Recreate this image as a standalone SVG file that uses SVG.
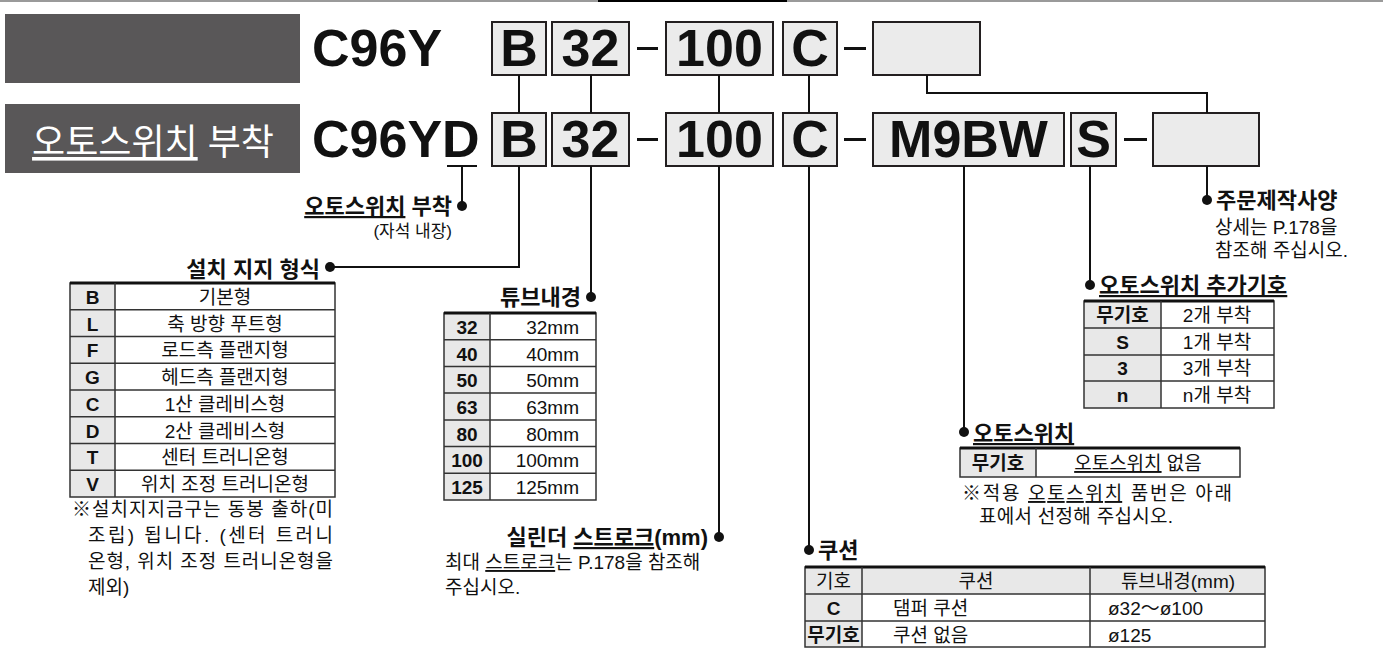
<svg xmlns="http://www.w3.org/2000/svg" width="1383" height="651" viewBox="0 0 1383 651">
<style>
text{font-family:"Liberation Sans","Noto Sans CJK KR",sans-serif;fill:#111}
.code{font-weight:bold;font-size:52px;text-anchor:middle}
.big{font-weight:bold;font-size:52px}
.box{fill:#ebebeb;stroke:#231f20;stroke-width:2}
.ln{stroke:#111;stroke-width:2;fill:none}
.dot{fill:#111}
.ti{font-weight:bold;font-size:22px}
.t{font-size:19px}
.tc{font-size:19px;text-anchor:middle}
.tb{font-size:19px;font-weight:bold;text-anchor:middle}
.k{fill:#e8e8e8}
.w{fill:#fff}
.grid{stroke:#333;stroke-width:1.5;fill:none}
.u{text-decoration:underline}
</style>
<rect x="0" y="0" width="1383" height="2" fill="#9a9a9a"/>
<rect x="598" y="0" width="189" height="2" fill="#000"/>

<g id="header-plain">
<rect x="5" y="14" width="295" height="69" fill="#595758"/>
<text class="big" x="312" y="66">C96Y</text>
</g>
<g id="header-switch">
<rect x="5" y="104" width="295" height="69" fill="#595758"/>
<text x="153" y="155" font-size="36" text-anchor="middle" style="fill:#fff"><tspan class="u">오토스위치</tspan> 부착</text>
<text class="big" x="312" y="157">C96YD</text>
<line x1="447" y1="166" x2="477" y2="166" class="ln"/>
</g>

<g id="codes-top">
<rect class="box" x="492" y="22" width="54" height="53"/><text class="code" x="519" y="66">B</text>
<rect class="box" x="552" y="22" width="77" height="53"/><text class="code" x="590.5" y="66">32</text>
<rect x="637" y="47" width="21" height="3" fill="#111"/>
<rect class="box" x="666" y="22" width="107" height="53"/><text class="code" x="719.5" y="66">100</text>
<rect class="box" x="783" y="22" width="54" height="53"/><text class="code" x="810" y="66">C</text>
<rect x="844" y="47" width="22" height="3" fill="#111"/>
<rect class="box" x="873" y="22" width="107" height="53"/>
</g>
<g id="codes-bottom">
<rect class="box" x="492" y="113" width="54" height="53"/><text class="code" x="519" y="157">B</text>
<rect class="box" x="552" y="113" width="77" height="53"/><text class="code" x="590.5" y="157">32</text>
<rect x="637" y="138" width="21" height="3" fill="#111"/>
<rect class="box" x="666" y="113" width="107" height="53"/><text class="code" x="719.5" y="157">100</text>
<rect class="box" x="783" y="113" width="54" height="53"/><text class="code" x="810" y="157">C</text>
<rect x="844" y="138" width="22" height="3" fill="#111"/>
<rect class="box" x="873" y="113" width="191" height="53"/><text class="code" x="968.5" y="157">M9BW</text>
<rect class="box" x="1071" y="113" width="45" height="53"/><text class="code" x="1093.5" y="157">S</text>
<rect x="1124" y="138" width="23" height="3" fill="#111"/>
<rect class="box" x="1153" y="113" width="106" height="53"/>
</g>

<g id="connectors">
<path class="ln" d="M519,75V113M591,75V113M719,75V113M809,75V113"/>
<path class="ln" d="M927,75V93H1207V113"/>
<path class="ln" d="M462,166V206"/>
<path class="ln" d="M519,166V267H330"/>
<path class="ln" d="M591,166V297"/>
<path class="ln" d="M719,166V537"/>
<path class="ln" d="M809,166V550"/>
<path class="ln" d="M964,166V432"/>
<path class="ln" d="M1090,166V285"/>
<path class="ln" d="M1207,166V200"/>
<circle class="dot" cx="462" cy="206" r="5"/>
<circle class="dot" cx="330" cy="267" r="5"/>
<circle class="dot" cx="591" cy="297" r="5"/>
<circle class="dot" cx="719" cy="537" r="5"/>
<circle class="dot" cx="809" cy="550" r="5"/>
<circle class="dot" cx="964" cy="432" r="5"/>
<circle class="dot" cx="1090" cy="285" r="5"/>
<circle class="dot" cx="1207" cy="200" r="5"/>
</g>

<g id="label-switch-mounted">
<text class="ti" x="452" y="214" text-anchor="end"><tspan class="u">오토스위치</tspan> 부착</text>
<text x="452" y="237" font-size="17" text-anchor="end">(자석 내장)</text>
</g>

<g id="mounting">
<text class="ti" x="320" y="277" text-anchor="end">설치 지지 형식</text>
<rect class="k" x="70" y="283" width="45" height="214"/>
<rect class="w" x="115" y="283" width="220" height="214"/>
<rect class="grid" x="70" y="283" width="265" height="214"/>
<line x1="70" y1="283" x2="335" y2="283" stroke="#111" stroke-width="3"/>
<path class="grid" d="M115,283V497M70,309.75H335M70,336.5H335M70,363.25H335M70,390H335M70,416.75H335M70,443.5H335M70,470.25H335"/>
<text class="tb" x="92.5" y="304">B</text><text class="tc" x="225" y="304">기본형</text>
<text class="tb" x="92.5" y="331">L</text><text class="tc" x="225" y="331">축 방향 푸트형</text>
<text class="tb" x="92.5" y="357">F</text><text class="tc" x="225" y="357">로드측 플랜지형</text>
<text class="tb" x="92.5" y="384">G</text><text class="tc" x="225" y="384">헤드측 플랜지형</text>
<text class="tb" x="92.5" y="411">C</text><text class="tc" x="225" y="411">1산 클레비스형</text>
<text class="tb" x="92.5" y="438">D</text><text class="tc" x="225" y="438">2산 클레비스형</text>
<text class="tb" x="92.5" y="464">T</text><text class="tc" x="225" y="464">센터 트러니온형</text>
<text class="tb" x="92.5" y="491">V</text><text class="tc" x="225" y="491">위치 조정 트러니온형</text>
<text class="t" x="72" y="516" textLength="261" lengthAdjust="spacing">※설치지지금구는 동봉 출하(미</text>
<text class="t" x="88" y="542" textLength="245" lengthAdjust="spacing">조립) 됩니다. (센터 트러니</text>
<text class="t" x="88" y="568" textLength="245" lengthAdjust="spacing">온형, 위치 조정 트러니온형을</text>
<text class="t" x="88" y="594">제외)</text>
</g>

<g id="bore">
<text class="ti" x="581" y="305" text-anchor="end">튜브내경</text>
<rect class="k" x="444" y="313" width="46" height="187"/>
<rect class="w" x="490" y="313" width="106" height="187"/>
<rect class="grid" x="444" y="313" width="152" height="187"/>
<line x1="444" y1="313" x2="596" y2="313" stroke="#111" stroke-width="3"/>
<path class="grid" d="M490,313V500M444,339.7H596M444,366.4H596M444,393.1H596M444,419.9H596M444,446.6H596M444,473.3H596"/>
<text class="tb" x="467" y="334">32</text><text class="t" x="579" y="334" text-anchor="end">32mm</text>
<text class="tb" x="467" y="361">40</text><text class="t" x="579" y="361" text-anchor="end">40mm</text>
<text class="tb" x="467" y="387">50</text><text class="t" x="579" y="387" text-anchor="end">50mm</text>
<text class="tb" x="467" y="414">63</text><text class="t" x="579" y="414" text-anchor="end">63mm</text>
<text class="tb" x="467" y="441">80</text><text class="t" x="579" y="441" text-anchor="end">80mm</text>
<text class="tb" x="467" y="467">100</text><text class="t" x="579" y="467" text-anchor="end">100mm</text>
<text class="tb" x="467" y="494">125</text><text class="t" x="579" y="494" text-anchor="end">125mm</text>
</g>

<g id="stroke">
<text class="ti" x="708" y="545" text-anchor="end">실린더 <tspan class="u">스트로크</tspan>(mm)</text>
<text class="t" x="445" y="569">최대 <tspan class="u">스트로크</tspan>는 P.178을 참조해</text>
<text class="t" x="445" y="594">주십시오.</text>
</g>

<g id="cushion">
<text class="ti" x="818" y="558">쿠션</text>
<rect class="w" x="805" y="567" width="460" height="80"/>
<rect class="k" x="805" y="567" width="460" height="27"/>
<rect class="k" x="805" y="594" width="57" height="53"/>
<rect class="grid" x="805" y="567" width="460" height="80"/>
<line x1="805" y1="567" x2="1265" y2="567" stroke="#111" stroke-width="3"/>
<path class="grid" d="M862,567V647M1090,567V647M805,594H1265M805,621H1265"/>
<text class="tc" x="833.5" y="588">기호</text>
<text class="tc" x="976" y="588">쿠션</text>
<text class="tc" x="1178" y="588">튜브내경(mm)</text>
<text class="tb" x="833.5" y="615">C</text>
<text class="t" x="893" y="615">댐퍼 쿠션</text>
<text class="t" x="1108" y="615">ø32～ø100</text>
<text class="tb" x="833.5" y="642">무기호</text>
<text class="t" x="893" y="642">쿠션 없음</text>
<text class="t" x="1108" y="642">ø125</text>
</g>

<g id="autoswitch">
<text class="ti" x="973" y="441"><tspan class="u">오토스위치</tspan></text>
<rect class="k" x="960" y="448" width="76" height="29"/>
<rect class="w" x="1036" y="448" width="204" height="29"/>
<rect class="grid" x="960" y="448" width="280" height="29"/>
<line x1="960" y1="448" x2="1240" y2="448" stroke="#111" stroke-width="3"/>
<path class="grid" d="M1036,448V477"/>
<text class="tb" x="998" y="470">무기호</text>
<text class="tc" x="1138" y="470"><tspan class="u">오토스위치</tspan> 없음</text>
<text class="t" x="962" y="500" textLength="270" lengthAdjust="spacing">※적용 <tspan class="u">오토스위치</tspan> 품번은 아래</text>
<text class="t" x="979" y="523" textLength="194" lengthAdjust="spacing">표에서 선정해 주십시오.</text>
</g>

<g id="switch-qty">
<text class="ti" x="1099" y="293"><tspan class="u">오토스위치 추가기호</tspan></text>
<rect class="k" x="1084" y="301" width="77" height="107"/>
<rect class="w" x="1161" y="301" width="113" height="107"/>
<rect class="grid" x="1084" y="301" width="190" height="107"/>
<line x1="1084" y1="301" x2="1274" y2="301" stroke="#111" stroke-width="3"/>
<path class="grid" d="M1161,301V408M1084,328H1274M1084,355H1274M1084,381H1274"/>
<text class="tb" x="1122.5" y="322">무기호</text><text class="tc" x="1217" y="322">2개 부착</text>
<text class="tb" x="1122.5" y="349">S</text><text class="tc" x="1217" y="349">1개 부착</text>
<text class="tb" x="1122.5" y="375">3</text><text class="tc" x="1217" y="375">3개 부착</text>
<text class="tb" x="1122.5" y="402">n</text><text class="tc" x="1217" y="402">n개 부착</text>
</g>

<g id="made-to-order">
<text class="ti" x="1216" y="208">주문제작사양</text>
<text class="t" x="1215" y="234">상세는 P.178을</text>
<text class="t" x="1215" y="257">참조해 주십시오.</text>
</g>
</svg>
